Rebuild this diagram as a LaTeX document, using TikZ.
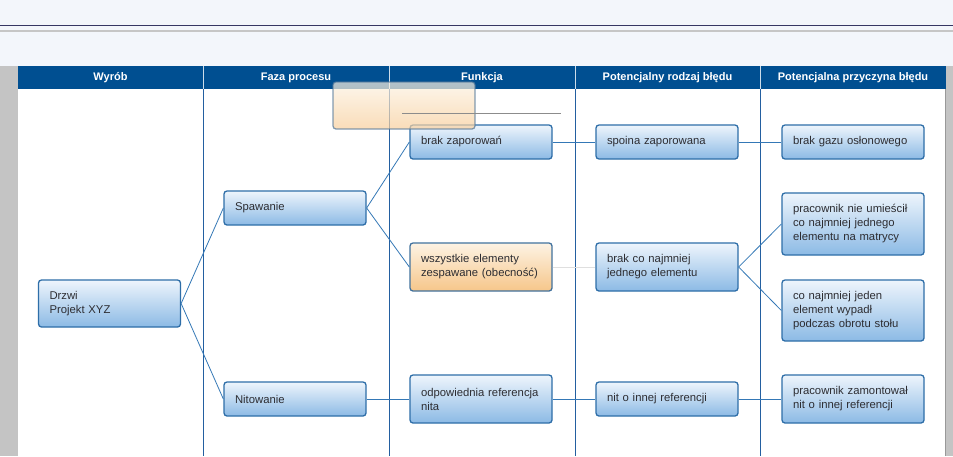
\documentclass[tikz,border=0pt]{standalone}
\usepackage{fontspec}
\setmainfont{Liberation Sans}
\usepackage{xcolor}
\usepackage{tikz}
\usetikzlibrary{positioning}

\definecolor{hdrblue}{RGB}{0,79,145}
\definecolor{boxline}{RGB}{46,110,168}
\definecolor{boxtop}{RGB}{238,245,252}
\definecolor{boxbot}{RGB}{140,186,229}
\definecolor{orgtop}{RGB}{253,243,228}
\definecolor{orgbot}{RGB}{246,198,138}
\definecolor{linkblue}{RGB}{52,120,182}
\definecolor{colblue}{RGB}{35,95,160}
\definecolor{pagebg}{RGB}{243,246,251}
\definecolor{sidegrey}{RGB}{196,196,196}
\definecolor{txtgrey}{RGB}{45,45,50}

\begin{document}
\begin{tikzpicture}[x=1pt, y=-1pt,
    every node/.style={font=\fontsize{11.3}{14}\selectfont, text=txtgrey},
    fmeabox/.style={draw=boxline, line width=1.3pt, rounded corners=3pt,
      top color=boxtop, bottom color=boxbot, text width=120pt,
      align=left, inner xsep=11pt},
    hotbox/.style={fmeabox, top color=orgtop, bottom color=orgbot, draw=boxline!75!gray},
    colhead/.style={font=\fontsize{11}{12}\selectfont\bfseries, text=white},
    link/.style={draw=linkblue, line width=0.8pt}]

  % page background and window frame
  \useasboundingbox (0,0) rectangle (953,456);
  \fill[pagebg] (0,0) rectangle (953,456);
  \draw[gray!70!blue!60!black, line width=1pt] (0,25) -- (953,25);
  \draw[gray!45, line width=2pt] (0,30.5) -- (953,30.5);
  \fill[sidegrey] (0,66) rectangle (17.5,456);
  \fill[sidegrey] (946,66) rectangle (953,456);
  \fill[white] (18,89) rectangle (946,456);
  \draw[gray!80, line width=0.8pt] (945.5,89) -- (945.5,456);

  % header row
  \fill[hdrblue] (18,66) rectangle (946,89);
  \foreach \cx in {203,389,575,760} {
    \draw[white!80!hdrblue, line width=0.8pt] (\cx,66) -- (\cx,89);
    \draw[colblue, line width=1pt] (\cx,89) -- (\cx,456);
  }
  \node[colhead] (hwyrob) at (110.5,78) {Wyrób};
  \node[colhead] (hfaza) at (296,78) {Faza procesu};
  \node[colhead] (hfunkcja) at (482,78) {Funkcja};
  \node[colhead] (hrodzaj) at (667.5,78) {Potencjalny rodzaj błędu};
  \node[colhead] (hprzyczyna) at (853,78) {Potencjalna przyczyna błędu};

  % tree of boxes
  \node[fmeabox, minimum height=47pt] (drzwi) at (109.5,303.5) {Drzwi\\Projekt XYZ};
  \node[fmeabox, minimum height=34pt] (spawanie) at (295,208) {Spawanie};
  \node[fmeabox, minimum height=34pt] (nitowanie) at (295,399) {Nitowanie};
  \node[fmeabox, minimum height=34pt] (zaporowania) at (481,142) {brak zaporowań};
  \node[hotbox, minimum height=48pt] (obecnosc) at (481,267) {wszystkie elementy\\zespawane (obecność)};
  \node[fmeabox, minimum height=48pt] (refnita) at (481,399) {odpowiednia referencja\\nita};
  \node[fmeabox, minimum height=34pt] (spoina) at (667,142) {spoina zaporowana};
  \node[fmeabox, minimum height=48pt] (brakelem) at (667,267) {brak co najmniej\\jednego elementu};
  \node[fmeabox, minimum height=34pt] (innaref) at (667,399) {nit o innej referencji};
  \node[fmeabox, minimum height=34pt] (gaz) at (853,142) {brak gazu osłonowego};
  \node[fmeabox, minimum height=62pt] (matryca) at (853,224) {pracownik nie umieścił\\co najmniej jednego\\elementu na matrycy};
  \node[fmeabox, minimum height=61pt] (wypadl) at (853,310.5) {co najmniej jeden\\element wypadł\\podczas obrotu stołu};
  \node[fmeabox, minimum height=48pt] (zamontowal) at (853,399) {pracownik zamontował\\nit o innej referencji};

  % connectors
  \draw[link] (drzwi.east) -- (spawanie.west);
  \draw[link] (drzwi.east) -- (nitowanie.west);
  \draw[link] (spawanie.east) -- (zaporowania.west);
  \draw[link] (spawanie.east) -- (obecnosc.west);
  \draw[link] (nitowanie.east) -- (refnita.west);
  \draw[link] (zaporowania.east) -- (spoina.west);
  \draw[link] (spoina.east) -- (gaz.west);
  \draw[draw=gray!25, line width=0.8pt] (obecnosc.east) -- (brakelem.west);
  \draw[link] (brakelem.east) -- (matryca.west);
  \draw[link] (brakelem.east) -- (wypadl.west);
  \draw[link] (refnita.east) -- (innaref.west);
  \draw[link] (innaref.east) -- (zamontowal.west);

  % dragged copy of the box
  \draw[draw=boxline!60!gray, line width=1.3pt, rounded corners=3pt,
    top color=orgtop, bottom color=orgbot!85!white, fill opacity=0.7, draw opacity=0.7]
    (333,82) rectangle (475,129);
  \draw[gray!90, line width=0.7pt] (402,113) -- (561,113);
\end{tikzpicture}
\end{document}
